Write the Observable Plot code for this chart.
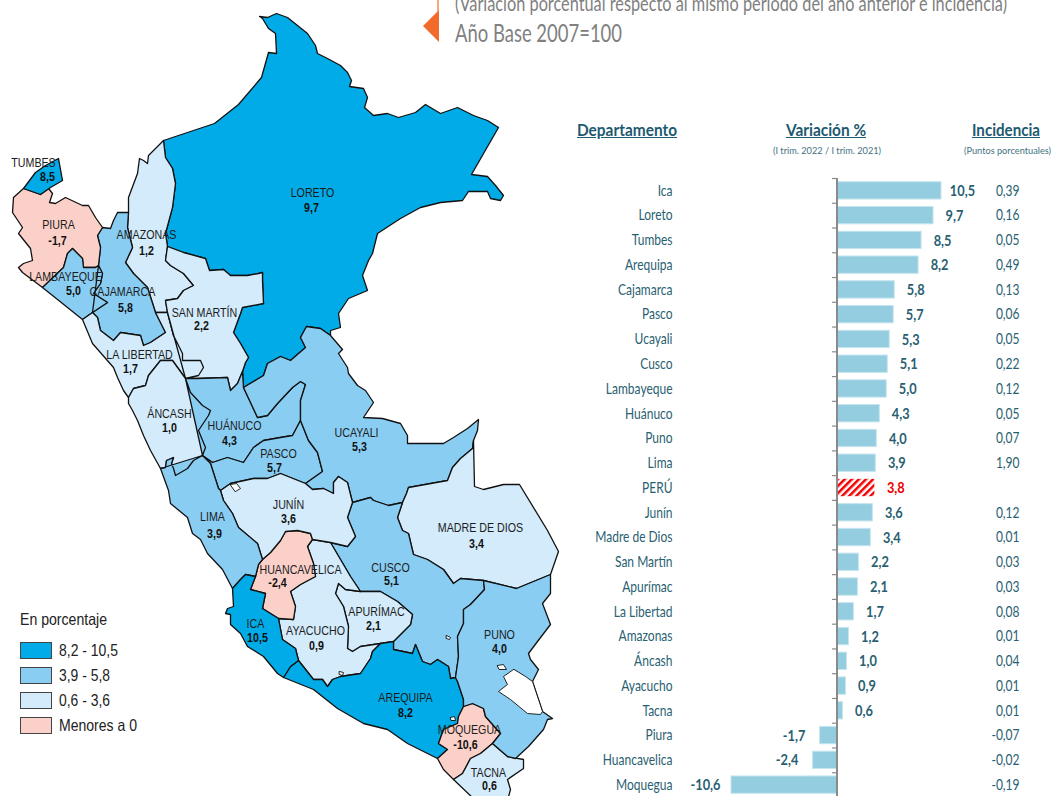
<!DOCTYPE html>
<html lang="es">
<head>
<meta charset="utf-8">
<script src="https://cdn.jsdelivr.net/npm/d3@7"></script>
<script src="https://cdn.jsdelivr.net/npm/@observablehq/plot@0.6"></script>
<style>
  html, body { margin: 0; padding: 0; width: 1053px; height: 796px; overflow: hidden; background: #fff; }
  body { position: relative; font-family: Lato, sans-serif; }
  svg { position: absolute; left: 0; top: 0; }
  .t { position: absolute; white-space: nowrap; line-height: 1; transform-origin: 0 0; }
  .sub { color: #808080; }
  .head { color: #1d5a70; font-weight: bold; font-size: 17px; text-decoration: underline; }
  .small { color: #3f7182; font-size: 10px; }
  .sw { position: absolute; left: 20px; width: 30px; height: 15px; border: 1.5px solid #444; }
  .lg { font-family: "Liberation Sans", sans-serif; font-size: 16.5px; color: #222; }
</style>
</head>
<body>
<div class="t sub" data-w="552" style="left:455px;top:-8px;font-size:21px;">(Variación porcentual respecto al mismo período del año anterior e incidencia)</div>
<div class="t sub" data-w="167" style="left:455px;top:20px;font-size:25px;">Año Base 2007=100</div>
<div style="position:absolute;left:437px;top:0;width:2px;height:11px;background:#f9a77c;"></div>
<div style="position:absolute;left:423px;top:10px;width:16px;height:32px;background:#f26b2d;clip-path:polygon(100% 0,0 50%,100% 100%);"></div>

<div class="t head" data-w="100" style="left:577px;top:121px;">Departamento</div>
<div class="t head" data-w="80" style="left:786px;top:121px;">Variación %</div>
<div class="t head" data-w="68" style="left:972px;top:121px;">Incidencia</div>
<div class="t small" data-w="108" style="left:773px;top:145px;">(I trim. 2022 / I trim. 2021)</div>
<div class="t small" data-w="87" style="left:964px;top:145px;">(Puntos porcentuales)</div>

<div id="legend"></div>

<script>
// ---------- Datos ----------
const departamentos = ["Ica","Loreto","Tumbes","Arequipa","Cajamarca","Pasco","Ucayali","Cusco","Lambayeque","Huánuco","Puno","Lima","PERÚ","Junín","Madre de Dios","San Martín","Apurímac","La Libertad","Amazonas","Áncash","Ayacucho","Tacna","Piura","Huancavelica","Moquegua"];
const variacion = [10.5,9.7,8.5,8.2,5.8,5.7,5.3,5.1,5.0,4.3,4.0,3.9,3.8,3.6,3.4,2.2,2.1,1.7,1.2,1.0,0.9,0.6,-1.7,-2.4,-10.6];
const incidencia = ["0,39","0,16","0,05","0,49","0,13","0,06","0,05","0,22","0,12","0,05","0,07","1,90","","0,12","0,01","0,03","0,03","0,08","0,01","0,04","0,01","0,01","-0,07","-0,02","-0,19"];

const leyendaTitulo = "En porcentaje";
const leyendaClases = ["8,2 - 10,5","3,9 - 5,8","0,6 - 3,6","Menores a 0"];
const leyendaAnchos = [59,51,51,78];
const colores = ["#fbd0c9","#d3ebfb","#89cdf3","#00abe7"]; // negativo → mayor
const cortes = [0,3.75,8];

// Tramos de límites departamentales trazados del mapa
const lor_out = [[163,140],[214,123],[238,104],[261,77],[268,52],[276,53],[275,33],[268,28],[262,18],[259,16],[267,17],[276,13],[287,17],[297,25],[307,33],[315,45],[317,53],[327,58],[340,65],[347,72],[351,80],[349,86],[363,88],[367,97],[364,107],[373,115],[387,113],[398,117],[415,112],[425,104],[440,113],[457,107],[473,115],[487,120],[498,127],[471,174],[487,176],[495,185],[503,195],[500,200],[490,198],[487,191],[468,191],[462,200],[440,202],[420,207],[400,218],[377,233],[372,253],[368,260],[362,275],[367,290],[348,298],[338,313],[340,327],[330,330],[330,335]];
const lor_amz = [[163,140],[165,157],[172,168],[175,183],[172,207],[165,233],[167,246]];
const lor_sm = [[167,246],[183,252],[205,258],[209,270],[223,269],[230,275],[247,275],[258,273],[262,272],[262,280],[263,303],[242,307],[240,313],[233,332],[240,343],[248,357],[245,362],[242,371]];
const lor_hua = [[242,371],[243,387]];
const lor_uca = [[243,387],[263,375],[267,363],[280,356],[290,360],[305,347],[300,337],[306,326],[320,328],[330,335]];
const amz_out = [[163,140],[148,155],[147,163],[143,160],[139,158],[137,173],[128,197],[128,212]];
const amz_caj = [[128,212],[127,227],[132,247],[125,262],[133,273],[147,287],[155,312]];
const amz_ll = [[155,312],[167,312]];
const amz_sm = [[167,312],[165,300],[177,298],[183,290],[193,285],[183,273],[170,265],[165,260],[167,246]];
const caj_out = [[102,227],[110,228],[113,220],[117,212],[128,212]];
const caj_ll = [[155,312],[165,332],[150,342],[143,345],[140,335],[120,332],[113,340],[100,330],[97,317],[92,312]];
const caj_lam = [[92,312],[107,302],[93,293],[100,283],[102,273],[98,265]];
const pi_caj = [[98,265],[100,247],[97,235],[102,227]];
const pi_coast = [[23,188],[13,197],[12,212],[22,227],[18,233],[30,248],[32,260],[23,263],[18,267],[22,272],[42,287]];
const pi_lam = [[42,287],[63,267],[67,253],[72,248],[82,258],[83,267],[95,267],[98,265]];
const pi_out = [[102,227],[95,217],[88,205],[82,205],[65,197],[55,203],[49,202],[52,193],[48,188],[40,194]];
const pi_tum = [[40,194],[23,188]];
const tum_out = [[23,188],[35,172],[45,165],[58,158],[62,180],[50,187],[40,194]];
const lam_coast = [[42,287],[82,319]];
const lam_ll = [[82,319],[92,312]];
const ll_coast = [[82,319],[92,343],[113,367],[117,377],[123,390],[128,397]];
const ll_anc = [[128,397],[133,388],[145,385],[148,375],[160,360],[172,360],[185,378]];
const ll_sm = [[185,378],[198,375],[203,367],[200,360],[182,360],[182,353],[173,335],[167,312]];
const sm_hua = [[242,371],[237,383],[230,390],[227,377],[197,378],[185,378]];
const anc_coast = [[128,397],[128,403],[132,410],[137,420],[143,435],[150,450],[160,468]];
const anc_lima = [[160,468],[165,467],[166,460],[173,457],[171,463],[173,468],[175,475],[187,468],[193,460],[202,455]];
const anc_hua = [[202,455],[205,447],[198,430],[208,415],[210,410],[202,405],[190,392],[185,378]];
const hua_uca = [[243,387],[257,417],[267,415],[277,403],[292,387],[300,381],[305,384],[300,400],[300,420]];
const hua_pas = [[300,420],[292,435],[280,437],[263,440],[253,447],[243,462],[227,457],[212,462],[202,455]];
const pas_uca = [[300,420],[308,440],[317,452],[322,471],[305,483]];
const pas_jun = [[305,483],[280,473],[267,478],[253,478],[230,483],[220,490]];
const pas_lima = [[220,490],[218,488],[210,463],[202,455]];
const uca_out = [[330,335],[342,349],[338,353],[347,367],[348,373],[357,385],[365,390],[373,402],[363,417],[382,418],[400,423],[407,435],[407,443],[443,443],[453,437],[467,428],[478,419],[477,430],[473,440]];
const uca_mdd = [[473,440],[472,448],[460,458],[452,467],[447,480],[408,487],[406,493],[402,502]];
const uca_cus = [[402,502],[388,505],[373,500],[370,497],[352,502]];
const uca_jun = [[352,502],[347,482],[338,476],[333,482],[333,493],[323,488],[312,489],[305,483]];
const mdd_out = [[473,440],[474,486],[483,489],[503,484],[519,484],[547,530],[558,551],[550,574]];
const mdd_pun = [[550,574],[516,588],[483,580]];
const mdd_cus = [[483,580],[460,578],[453,583],[443,569],[427,559],[413,554],[408,533],[402,530],[397,517],[402,502]];
const jun_cus = [[330,542],[347,546],[355,536],[347,517],[352,502]];
const cus_pun = [[483,580],[484,589],[470,604],[463,609],[463,623],[457,636],[458,656],[455,677]];
const cus_are = [[455,677],[450,678],[448,666],[437,659],[430,664],[422,661],[415,644],[412,653],[393,649],[393,641]];
const cus_apu = [[393,641],[410,624],[412,614],[397,601],[380,591],[360,591]];
const cus_aya = [[360,591],[350,576],[330,542]];
const apu_are = [[393,641],[380,643]];
const apu_aya = [[380,643],[360,646],[352,651],[347,648],[348,626],[343,606],[335,593],[338,583],[345,589],[360,591]];
const are_aya = [[380,643],[372,651],[370,658],[360,673],[340,676],[332,679],[327,686],[322,679],[313,679],[298,660]];
const ica_are = [[283,677],[290,666],[298,660]];
const are_pun = [[455,677],[457,681],[463,699],[463,706]];
const are_moq = [[463,706],[458,716],[457,723],[443,729],[438,743],[447,749],[437,758]];
const are_coast = [[437,758],[407,743],[387,729],[363,723],[337,708],[313,689],[283,677]];
const jun_aya = [[312,539],[330,542]];
const ica_aya = [[298,660],[295,648],[282,639],[278,618]];
const hua_aya = [[278,618],[293,619],[295,606],[290,591],[300,584],[315,576],[313,563],[307,546],[312,539]];
const ica_hua = [[278,618],[262,608],[265,593],[250,589],[255,576]];
const lim_hua = [[255,576],[258,564],[262,559]];
const jun_hua = [[262,559],[270,552],[280,540],[285,531],[297,530],[310,533],[312,539]];
const lim_jun = [[262,559],[257,543],[238,527],[232,513],[223,500],[220,490]];
const lim_ica = [[255,576],[245,574],[240,579],[232,588]];
const lim_coast = [[232,588],[222,569],[207,553],[200,539],[192,533],[187,517],[170,503],[168,490],[160,468]];
const ica_coast = [[283,677],[277,673],[263,656],[247,646],[240,633],[230,624],[230,614],[225,613],[227,608],[233,606],[232,588]];
const moq_pun = [[463,706],[472,703],[483,708],[485,716],[500,733],[492,743]];
const moq_tac = [[492,743],[480,753],[470,758],[462,773],[453,779]];
const moq_coast = [[453,779],[443,769],[437,758]];
const tac_pun = [[492,743],[507,756]];
const tac_out = [[507,756],[523,759],[523,768],[507,779],[510,789],[507,800],[475,800],[453,779]];
const pun_out = [[550,574],[550,593],[542,603],[550,624],[537,641],[528,653],[530,659],[538,669],[532,681],[542,711],[552,718],[547,719],[543,729],[528,746],[515,758],[507,756]];

const lagos = [
  [[513,669],[503,676],[507,684],[498,691],[510,699],[527,713],[540,714],[542,711],[532,681],[525,676]],
  [[497,665],[503,664],[506,669],[499,669]],
  [[446,635],[450,637],[449,639],[446,638]],
  [[450,717],[454,716],[455,720],[451,720]],
  [[339,671],[343,672],[342,675],[339,674]],
  [[230,484],[236,483],[240,488],[235,491]]
];

const r = a => a.slice().reverse();
const contornos = {
  "Loreto": [lor_out, r(lor_uca), r(lor_hua), r(lor_sm), r(lor_amz)],
  "Amazonas": [amz_out, amz_caj, amz_ll, amz_sm, r(lor_amz)],
  "Cajamarca": [caj_out, amz_caj, caj_ll, caj_lam, pi_caj],
  "Piura": [pi_coast, pi_lam, pi_caj, pi_out, pi_tum],
  "Tumbes": [tum_out, pi_tum],
  "Lambayeque": [lam_coast, lam_ll, r(caj_lam), r(pi_lam)],
  "La Libertad": [ll_coast, ll_anc, ll_sm, r(amz_ll), caj_ll, r(lam_ll)],
  "San Martín": [lor_sm, sm_hua, r(ll_sm), amz_sm],
  "Áncash": [anc_coast, anc_lima, anc_hua, r(ll_anc)],
  "Huánuco": [r(sm_hua), lor_hua, hua_uca, hua_pas, r(anc_hua)],
  "Pasco": [r(hua_pas), pas_uca, pas_jun, pas_lima],
  "Ucayali": [lor_uca, uca_out, uca_mdd, uca_cus, uca_jun, r(pas_uca), r(hua_uca)],
  "Madre de Dios": [r(uca_mdd), mdd_out, mdd_pun, mdd_cus],
  "Cusco": [jun_cus, r(uca_cus), r(mdd_cus), cus_pun, cus_are, cus_apu, cus_aya],
  "Apurímac": [cus_apu, r(apu_aya), r(apu_are)],
  "Ayacucho": [jun_aya, r(cus_aya), r(apu_aya), are_aya, ica_aya, hua_aya],
  "Arequipa": [ica_are, r(are_aya), r(apu_are), r(cus_are), are_pun, are_moq, are_coast],
  "Huancavelica": [r(hua_aya), ica_hua, lim_hua, jun_hua],
  "Junín": [r(pas_jun), r(uca_jun), r(jun_cus), r(jun_aya), r(jun_hua), lim_jun],
  "Lima": [r(pas_lima), r(lim_jun), r(lim_hua), lim_ica, lim_coast, r(anc_lima)],
  "Ica": [r(lim_ica), r(ica_hua), r(ica_aya), r(ica_are), ica_coast],
  "Moquegua": [r(are_moq), moq_pun, moq_tac, moq_coast],
  "Tacna": [r(moq_tac), tac_pun, tac_out],
  "Puno": [r(mdd_pun), pun_out, r(tac_pun), r(moq_pun), r(are_pun), r(cus_pun)]
};

// Rótulos del mapa: departamento, nombre (x, y) y valor (x, y)
const rotulos = [
  ["Tumbes","TUMBES",33,162,47,176],["Piura","PIURA",58,224,57,240],["Amazonas","AMAZONAS",146,234,146,250],
  ["Lambayeque","LAMBAYEQUE",65,276,73,290],["Cajamarca","CAJAMARCA",122,291,125,307],["San Martín","SAN MARTÍN",204,312,201,325],
  ["La Libertad","LA LIBERTAD",139,354,130,368],["Áncash","ÁNCASH",169,413,169,427],["Huánuco","HUÁNUCO",234,425,229,440],
  ["Pasco","PASCO",278,453,274,467],["Ucayali","UCAYALI",356,432,359,446],["Loreto","LORETO",312,192,311,207],
  ["Junín","JUNÍN",288,504,288,518],["Lima","LIMA",212,516,214,533],["Madre de Dios","MADRE DE DIOS",480,527,476,543],
  ["Huancavelica","HUANCAVELICA",300,569,277,582],["Cusco","CUSCO",390,567,391,580],["Apurímac","APURÍMAC",376,611,373,625],
  ["Ica","ICA",255,623,257,637],["Ayacucho","AYACUCHO",315,630,316,645],["Puno","PUNO",499,634,499,648],
  ["Arequipa","AREQUIPA",405,697,405,712],["Moquegua","MOQUEGUA",469,729,465,744],["Tacna","TACNA",488,772,489,785]
];

// ---------- Preparación ----------
const fmt = v => d3.format(".1f")(v).replace(".", ",").replace("−", "-");
const valorDe = new Map(departamentos.map((d, i) => [d, variacion[i]]));
const filas = departamentos.map((d, i) => ({nombre: d, valor: variacion[i], inc: incidencia[i]}));

const features = Object.entries(contornos).map(([nombre, tramos]) => {
  const anillo = tramos.flat();
  anillo.push(anillo[0]);
  return {type: "Feature", properties: {nombre, valor: valorDe.get(nombre)}, geometry: {type: "Polygon", coordinates: [anillo]}};
});
const featLagos = lagos.map(a => ({type: "Feature", properties: {}, geometry: {type: "Polygon", coordinates: [[...a, a[0]]]}}));
const etiquetas = rotulos.map(([d, n, x, y, vx, vy]) => ({n, x, y, vx, vy, v: fmt(valorDe.get(d))}));

const FMAPA = "Liberation Sans";
const FBARRA = "Lato";

// Estrecha un texto SVG ya montado en el documento (las fuentes condensadas no están instaladas)
function estrechar(nodos, k) {
  nodos.forEach(n => {
    const w = n.getComputedTextLength();
    if (w > 0) { n.setAttribute("textLength", w * k); n.setAttribute("lengthAdjust", "spacingAndGlyphs"); }
  });
}

// ---------- Mapa ----------
const mapa = Plot.plot({
  width: 570, height: 796, margin: 0,
  projection: d3.geoIdentity(),
  color: {type: "threshold", domain: cortes, range: colores},
  style: {background: "transparent"},
  marks: [
    Plot.geo(features, {fill: d => d.properties.valor, stroke: "#111", strokeWidth: 1.3, strokeLinejoin: "round"}),
    Plot.geo(featLagos, {fill: "#fff", stroke: "#111", strokeWidth: 0.9}),
    Plot.text(etiquetas, {x: "x", y: "y", text: "n", fontFamily: FMAPA, fontSize: 13, fill: "#1c1c1c"}),
    Plot.text(etiquetas, {x: "vx", y: "vy", text: "v", fontFamily: FMAPA, fontSize: 13, fontWeight: "bold", fill: "#111"})
  ]
});
document.body.appendChild(mapa);
estrechar(mapa.querySelectorAll("text"), 0.82);

// ---------- Barras ----------
const Y0 = 178, Y1 = 797, paso = (Y1 - Y0) / departamentos.length;
const positivos = filas.filter(d => d.valor >= 0);
const negativos = filas.filter(d => d.valor < 0);
const nacional = filas.filter(d => d.nombre === "PERÚ");
const regiones = filas.filter(d => d.nombre !== "PERÚ");
const COLTXT = "#2a5f72";

const barras = Plot.plot({
  width: 1053, height: 796,
  marginTop: Y0, marginBottom: 0, marginLeft: 672, marginRight: 34,
  x: {domain: [-10.6, 10.5], range: [731, 941], axis: null},
  y: {type: "band", domain: departamentos, range: [Y0, Y1], paddingInner: 0.3, paddingOuter: 0.15, round: false, label: null},
  style: {background: "transparent"},
  marks: [
    Plot.barX(regiones, {x: "valor", y: "nombre", fill: "#93cddf", stroke: "#c5e5ef", strokeWidth: 1}),
    Plot.barX(nacional, {x: "valor", y: "nombre", fill: "url(#trama)"}),
    Plot.ruleX([0], {stroke: "#8a8a8a", strokeWidth: 2}),
    Plot.ruleY(departamentos, {y: d => d, x1: -0.45, x2: 0, dy: -paso / 2, stroke: "#8a8a8a", strokeWidth: 1.2}),
    Plot.axisY({anchor: "left", tickSize: 0, tickPadding: 0, label: null, fontFamily: FBARRA, fontSize: 15, fill: COLTXT}),
    Plot.text(positivos, {ariaLabel: "valor", x: "valor", y: "nombre", text: d => fmt(d.valor), dx: 21, fontFamily: FBARRA, fontWeight: "bold", fontSize: 16, fill: d => d.nombre === "PERÚ" ? "#f00000" : COLTXT}),
    Plot.text(negativos, {ariaLabel: "valor", x: "valor", y: "nombre", text: d => fmt(d.valor), dx: -26, fontFamily: FBARRA, fontWeight: "bold", fontSize: 16, fill: COLTXT}),
    Plot.text(filas, {y: "nombre", text: "inc", frameAnchor: "right", textAnchor: "end", fontFamily: FBARRA, fontSize: 15, fill: COLTXT})
  ]
});
d3.select(barras).append("defs").html(
  '<pattern id="trama" width="5" height="5" patternUnits="userSpaceOnUse" patternTransform="rotate(45)">' +
  '<rect width="5" height="5" fill="#fff"/><rect width="2.5" height="5" fill="#f00000"/></pattern>');
document.body.appendChild(barras);
barras.querySelectorAll("text").forEach(n => {
  const esValor = n.closest('g[aria-label="valor"]');
  estrechar([n], esValor ? 0.9 : 0.8);
});

// ---------- Leyenda ----------
const lg = document.getElementById("legend");
const tit = document.createElement("div");
tit.className = "t lg"; tit.style.left = "20px"; tit.style.top = "611px"; tit.dataset.w = 87; tit.textContent = leyendaTitulo;
lg.appendChild(tit);
leyendaClases.forEach((t, i) => {
  const s = document.createElement("div");
  s.className = "sw"; s.style.top = (642 + i * 25) + "px"; s.style.background = colores[3 - i];
  const l = document.createElement("div");
  l.className = "t lg"; l.style.left = "59px"; l.style.top = (642 + i * 25) + "px"; l.dataset.w = leyendaAnchos[i]; l.textContent = t;
  lg.append(s, l);
});

// Ajuste horizontal de los textos HTML al ancho del original
document.querySelectorAll(".t[data-w]").forEach(e => {
  const w = e.getBoundingClientRect().width;
  e.style.transform = "scaleX(" + (+e.dataset.w / w) + ")";
});
</script>
</body>
</html>
